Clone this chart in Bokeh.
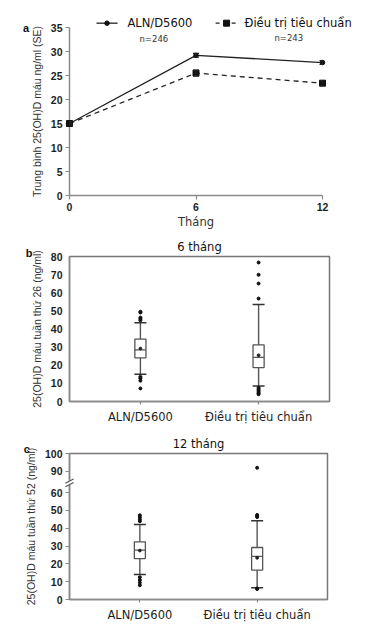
from bokeh.plotting import figure
from bokeh.layouts import column
from bokeh.models import (Range1d, FixedTicker, Whisker, TeeHead, ColumnDataSource)
from bokeh.embed import file_html
from bokeh.resources import INLINE
from bokeh.core.properties import value

# ---------------- data ----------------
# panel a: mean 25(OH)D (SE) over time
months = [0, 6, 12]
aln_mean = [15.0, 29.2, 27.7]
aln_se = [0.3, 0.4, 0.4]
std_mean = [15.0, 25.5, 23.4]
std_se = [0.3, 0.6, 0.5]
series_names = ["ALN/D5600", "Điều trị tiêu chuẩn"]
n_labels = ["n=246", "n=243"]
a_yticks = [0, 5, 10, 15, 20, 25, 30, 35]

# panels b, c: box plots
groups = ["ALN/D5600", "Điều trị tiêu chuẩn"]

w26_q1 = [24.1, 18.7]
w26_med = [28.5, 24.3]
w26_q3 = [34.4, 31.2]
w26_mean = [29.2, 25.5]
w26_lo = [15.1, 8.6]
w26_hi = [43.4, 53.5]
w26_out_aln = [44.8, 45.6, 46.3, 49.1, 49.5, 13.6, 12.8, 11.5, 7.2]
w26_out_std = [56.8, 65.1, 69.9, 76.7, 7.6, 6.8, 6.0, 5.2, 4.5, 4.0]
b_yticks = [0, 10, 20, 30, 40, 50, 60, 70, 80]

w52_q1 = [23.0, 16.5]
w52_med = [27.7, 24.2]
w52_q3 = [32.4, 29.2]
w52_mean = [27.5, 23.4]
w52_lo = [14.0, 6.6]
w52_hi = [42.1, 44.2]
w52_out_aln = [44.0, 45.0, 46.2, 47.3, 12.5, 11.0, 9.5, 8.0]
w52_out_std = [46.3, 47.0, 47.5, 92.0, 6.2, 5.9]
c_ytick_values = [0, 10, 20, 30, 40, 50, 60, 90, 100]

# broken axis for panel c: values from BREAK_LO to BREAK_HI are cut out
BREAK_LO = 60
BREAK_HI = 78


def cmap(v):
    return v if v <= BREAK_LO else v - (BREAK_HI - BREAK_LO)


AXIS_COL = "#8a8a8a"
TXT = "#1e1e1e"
LETTER_FONT = value("Liberation Sans")


def style_axes(p):
    for ax in p.axis:
        ax.axis_line_color = AXIS_COL
        ax.axis_line_width = 1.5
        ax.major_tick_line_color = AXIS_COL
        ax.major_tick_line_width = 1.2
        ax.major_tick_in = 0
        ax.major_tick_out = 4
        ax.minor_tick_line_color = None
        ax.major_label_text_font = "Liberation Sans"
        ax.major_label_text_font_style = "bold"
        ax.major_label_text_font_size = "10.5px"
        ax.major_label_text_color = TXT
        ax.major_label_standoff = 3
        ax.axis_label_text_font_style = "normal"
        ax.axis_label_text_color = "#333333"
    p.xgrid.visible = False
    p.ygrid.visible = False
    p.background_fill_color = "white"
    p.border_fill_color = "white"


# ---------------- panel a ----------------
pa = figure(frame_width=253, frame_height=168, min_border_left=69,
            min_border_right=55, min_border_top=27, min_border_bottom=30,
            x_range=Range1d(0, 12), y_range=Range1d(0, 35),
            output_backend="svg", toolbar_location=None)
style_axes(pa)
pa.outline_line_color = None
pa.xaxis.ticker = FixedTicker(ticks=months)
pa.yaxis.ticker = FixedTicker(ticks=a_yticks)
pa.xaxis.axis_label = "Tháng"
pa.xaxis.axis_label_text_font = "DejaVu Sans"
pa.xaxis.axis_label_text_font_size = "11.5px"
pa.xaxis.axis_label_standoff = 1
pa.yaxis.axis_label = "Trung bình 25(OH)D máu ng/ml (SE)"
pa.yaxis.axis_label_text_font = "Liberation Sans"
pa.yaxis.axis_label_text_font_size = "10.5px"
pa.yaxis.axis_label_standoff = 5

LINE = "#222222"
DASH = "5 4"
pa.line(months, aln_mean, line_color=LINE, line_width=1.3)
pa.line(months, std_mean, line_color=LINE, line_width=1.3, line_dash=DASH)

for mean, se in ((aln_mean, aln_se), (std_mean, std_se)):
    src = ColumnDataSource(dict(x=months,
                                upper=[m + s for m, s in zip(mean, se)],
                                lower=[m - s for m, s in zip(mean, se)]))
    pa.add_layout(Whisker(source=src, base="x", upper="upper", lower="lower",
                          line_color=LINE, line_width=1.2, level="overlay",
                          upper_head=TeeHead(size=6, line_color=LINE, line_width=1.2),
                          lower_head=TeeHead(size=6, line_color=LINE, line_width=1.2)))

pa.scatter(months, std_mean, marker="square", size=6, color="#111111",
           level="overlay")
pa.scatter(months, aln_mean, marker="circle", size=4.5, color="#111111",
           level="overlay")

# hand-built legend above the frame (drawn unclipped)
LEG_Y = 35.9
leg1 = (1.28, 2.28, 2.75)   # line start, line end, text start (months axis units)
leg2 = (6.93, 7.97, 8.30)
pa.segment(x0=[leg1[0]], y0=[LEG_Y], x1=[leg1[1]], y1=[LEG_Y], line_color=LINE,
           line_width=1.3, level="overlay")
pa.scatter([(leg1[0] + leg1[1]) / 2], [LEG_Y], marker="circle", size=4.5,
           color="#111111", level="overlay")
pa.segment(x0=[leg2[0]], y0=[LEG_Y], x1=[leg2[1]], y1=[LEG_Y], line_color=LINE,
           line_width=1.3, line_dash="4 4", level="overlay")
pa.scatter([(leg2[0] + leg2[1]) / 2], [LEG_Y], marker="square", size=6,
           color="#111111", level="overlay")
pa.text(x=[leg1[2], leg2[2]], y=[LEG_Y, LEG_Y], text=series_names,
        text_align="left", text_baseline="middle",
        text_font=value("DejaVu Sans"), text_font_size="11.5px",
        text_color="#111111", level="overlay")

pa.text(x=[4.0, 10.4], y=[32.7, 32.9], text=n_labels, text_align="center",
        text_baseline="middle", text_font=value("DejaVu Sans"),
        text_font_size="8.5px", text_color="#333333")

pa.text(x=[-2.2], y=[34.8], text=["a"], text_font=LETTER_FONT,
        text_font_style="bold", text_font_size="11px", text_color="#111111",
        text_baseline="alphabetic", level="overlay")


# ---------------- box panels ----------------
BOX_W = 0.094
BOX_LINE = "#555555"


def box_panel(title, letter, ylabel, q1, med, q3, mean, lo, hi, outs,
              yr, ytick_vals, ytick_map, frame_w, frame_h, left, top,
              y_ticks_out, letter_xy):
    p = figure(frame_width=frame_w, frame_height=frame_h, min_border_left=left,
               min_border_right=45, min_border_top=top, min_border_bottom=24,
               x_range=Range1d(-0.6, 1.6), y_range=Range1d(*yr),
               output_backend="svg", toolbar_location=None)
    style_axes(p)
    p.outline_line_color = "#777777"
    p.outline_line_width = 1.5
    xs = list(range(len(groups)))
    p.xaxis.ticker = FixedTicker(ticks=xs)
    p.xaxis.major_label_overrides = {i: g for i, g in enumerate(groups)}
    p.xaxis.major_label_text_font = "DejaVu Sans"
    p.xaxis.major_label_text_font_style = "normal"
    p.xaxis.major_label_text_font_size = "11.5px"
    p.xaxis.major_tick_out = 3
    p.xaxis.major_label_standoff = 5
    ticks = [ytick_map(v) for v in ytick_vals]
    p.yaxis.ticker = FixedTicker(ticks=ticks)
    p.yaxis.major_label_overrides = {t: str(v) for t, v in zip(ticks, ytick_vals)}
    p.yaxis.major_tick_out = y_ticks_out
    p.yaxis.major_label_standoff = 3 if y_ticks_out else 7
    p.yaxis.axis_label = ylabel
    p.yaxis.axis_label_text_font = "Liberation Sans"
    p.yaxis.axis_label_text_font_size = "10.5px"
    p.yaxis.axis_label_standoff = 5

    p.title.text = title
    p.title.align = "center"
    p.title.text_font = "DejaVu Sans"
    p.title.text_font_size = "11.5px"
    p.title.text_font_style = "normal"
    p.title.text_color = "#111111"
    p.title.standoff = 5

    m = ytick_map
    # whiskers
    p.segment(x0=xs, y0=[m(v) for v in q3], x1=xs, y1=[m(v) for v in hi],
              line_color=BOX_LINE, line_width=1.4)
    p.segment(x0=xs, y0=[m(v) for v in q1], x1=xs, y1=[m(v) for v in lo],
              line_color=BOX_LINE, line_width=1.4)
    p.scatter(xs, [m(v) for v in hi], marker="dash", size=12, line_color="#333333",
              line_width=1.5)
    p.scatter(xs, [m(v) for v in lo], marker="dash", size=12, line_color="#333333",
              line_width=1.5)
    # boxes
    p.vbar(x=xs, width=BOX_W, bottom=[m(v) for v in q1], top=[m(v) for v in q3],
           fill_color="white", line_color=BOX_LINE, line_width=1.3)
    p.scatter(xs, [m(v) for v in med], marker="dash", size=11, line_color=BOX_LINE,
              line_width=1.3)
    p.scatter(xs, [m(v) for v in mean], marker="circle", size=2.8,
              color="#222222")
    # outliers
    ox, oy = [], []
    for i, vals in enumerate(outs):
        ox += [i] * len(vals)
        oy += [m(v) for v in vals]
    p.scatter(ox, oy, marker="circle", size=3, color="#111111", level="overlay")

    p.text(x=[letter_xy[0]], y=[letter_xy[1]], text=[letter], text_font=LETTER_FONT,
           text_font_style="bold", text_font_size="11px", text_color="#111111",
           text_baseline="alphabetic", level="overlay")
    return p


pb = box_panel("6 tháng", "b", "25(OH)D máu tuần thứ 26 (ng/ml)",
               w26_q1, w26_med, w26_q3, w26_mean, w26_lo, w26_hi,
               [w26_out_aln, w26_out_std], (0, 80), b_yticks, lambda v: v,
               260, 145, 67, 25, 0, (-0.97, 82.2))

pc = box_panel("12 tháng", "c", "25(OH)D máu tuần thứ 52 (ng/ml)",
               w52_q1, w52_med, w52_q3, w52_mean, w52_lo, w52_hi,
               [w52_out_aln, w52_out_std], (0, cmap(100)), c_ytick_values, cmap,
               258, 146, 68, 27, 4, (-0.99, 84.5))

# break marks on the panel c y-axis
bx = -0.6
bm = cmap(BREAK_LO) + 5.5
pc.quad(left=[bx - 0.02], right=[bx + 0.02], bottom=[bm - 1.2], top=[bm + 1.2],
        fill_color="white", line_color=None, level="overlay")
pc.segment(x0=[bx - 0.035, bx - 0.035], y0=[bm - 2.2, bm - 0.2],
           x1=[bx + 0.035, bx + 0.035], y1=[bm + 0.2, bm + 2.2],
           line_color="#555555", line_width=1.1, level="overlay")

layout = column(pa, pb, pc, spacing=0)
open("out.html", "w").write(file_html(layout, INLINE))
